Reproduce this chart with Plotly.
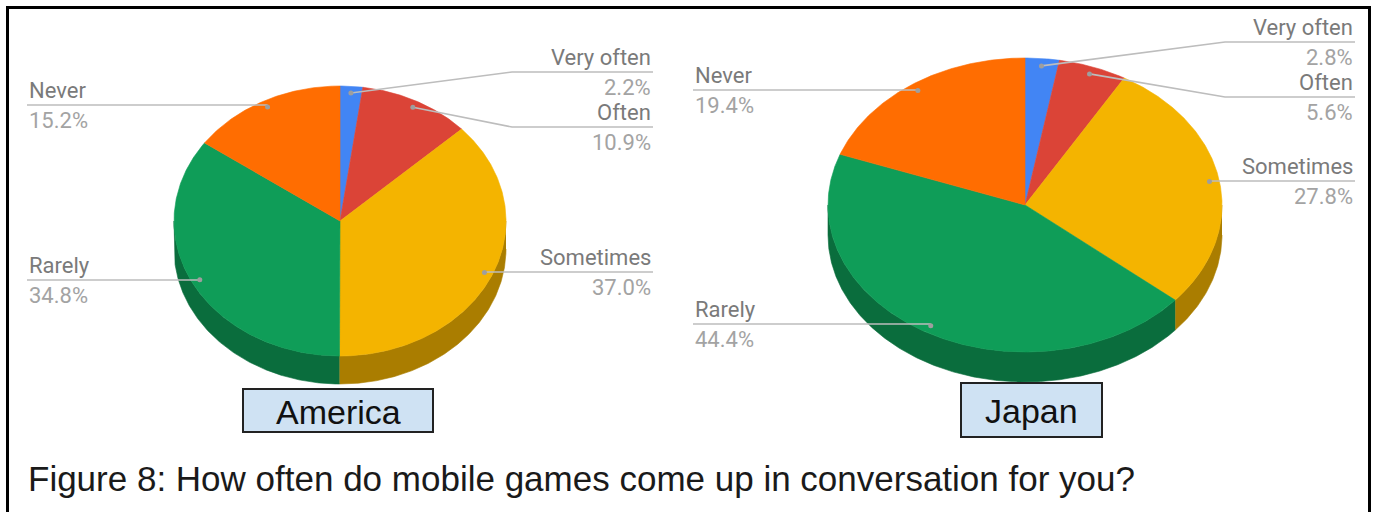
import numpy as np
import plotly.graph_objects as go

# Survey answers (percent of respondents)
categories = ["Very often", "Often", "Sometimes", "Rarely", "Never"]
america_pct = [2.2, 10.9, 37.0, 34.8, 15.2]
japan_pct = [2.8, 5.6, 27.8, 44.4, 19.4]
slice_colors = ["#4285F4", "#DB4437", "#F4B400", "#0F9D58", "#FF6D01"]
countries = ["America", "Japan"]
caption = "Figure 8: How often do mobile games come up in conversation for you?"

W, H = 1377, 512

# Pixel layout of each tilted pie and its labels
pie_layout = [
    dict(cx=340, cy=221, rx=166, ry=135, depth=28,
         left_x=27, right_x=653, elbow_x=512,
         line_y=[72, 127, 272, 280, 105],
         box=(243, 389, 433, 432)),
    dict(cx=1025, cy=205, rx=197, ry=147, depth=30,
         left_x=693, right_x=1355, elbow_x=1225,
         line_y=[42, 97, 181, 324, 90],
         box=(961, 383, 1102, 437)),
]
country_values = [america_pct, japan_pct]

LABEL_FONT = "Roboto"
NAME_COLOR = "#7a7a7a"
PCT_COLOR = "#a3a3a3"
LEADER_COLOR = "#bdbdbd"
DOT_FRAC = 0.95


def darken(hex_color, f=0.7):
    h = hex_color.lstrip("#")
    r, g, b = (int(h[i:i + 2], 16) for i in (0, 2, 4))
    return "#%02x%02x%02x" % (int(r * f), int(g * f), int(b * f))


def arc(cx, cy, rx, ry, a0, a1):
    n = max(int(abs(a1 - a0) * 2), 4)
    th = np.radians(np.linspace(a0, a1, n))
    return cx + rx * np.sin(th), cy - ry * np.cos(th)


fig = go.Figure()
annotations = []
shapes = []

for country, values, lay in zip(countries, country_values, pie_layout):
    cx, cy, rx, ry, d = lay["cx"], lay["cy"], lay["rx"], lay["ry"], lay["depth"]
    total = float(sum(values))
    bounds = np.concatenate([[0.0], np.cumsum(values)]) / total * 360.0

    # side wall: only the front half (90..270 deg) is visible
    for i, col in enumerate(slice_colors):
        a0, a1 = max(bounds[i], 90.0), min(bounds[i + 1], 270.0)
        if a1 <= a0:
            continue
        xs, ys = arc(cx, cy, rx, ry, a0, a1)
        px = np.concatenate([xs, xs[::-1]])
        py = np.concatenate([ys, ys[::-1] + d])
        side = darken(col)
        fig.add_trace(go.Scatter(x=px, y=py, mode="lines", fill="toself",
                                 fillcolor=side, line=dict(color=side, width=0.6),
                                 hoverinfo="skip", showlegend=False))

    # top faces
    for i, (cat, col) in enumerate(zip(categories, slice_colors)):
        xs, ys = arc(cx, cy, rx, ry, bounds[i], bounds[i + 1])
        px = np.concatenate([[cx], xs, [cx]])
        py = np.concatenate([[cy], ys, [cy]])
        fig.add_trace(go.Scatter(x=px, y=py, mode="lines", fill="toself",
                                 fillcolor=col, line=dict(color=col, width=0.6),
                                 name=cat, hoverinfo="name", showlegend=False))

    # leader lines, dots and labels
    for i, cat in enumerate(categories):
        mid = np.radians((bounds[i] + bounds[i + 1]) / 2)
        dx = cx + DOT_FRAC * rx * np.sin(mid)
        dy = cy - DOT_FRAC * ry * np.cos(mid)
        ly = lay["line_y"][i]
        left = dx < cx
        end_x = lay["left_x"] if left else lay["right_x"]
        if abs(dy - ly) < 4:
            lx, lyy = [dx, end_x], [ly, ly]
        else:
            lx, lyy = [dx, lay["elbow_x"], end_x], [dy, ly, ly]
        fig.add_trace(go.Scatter(x=lx, y=lyy, mode="lines",
                                 line=dict(color=LEADER_COLOR, width=1.6),
                                 hoverinfo="skip", showlegend=False))
        fig.add_trace(go.Scatter(x=[dx], y=[dy], mode="markers",
                                 marker=dict(size=5, color="#9e9e9e"),
                                 hoverinfo="skip", showlegend=False))
        anchor = "left" if left else "right"
        annotations.append(dict(x=end_x, y=ly - 15, text=cat, showarrow=False,
                                xanchor=anchor, yanchor="middle", xref="x", yref="y",
                                font=dict(family=LABEL_FONT, size=22, color=NAME_COLOR)))
        annotations.append(dict(x=end_x, y=ly + 15, text="%.1f%%" % values[i],
                                showarrow=False, xanchor=anchor, yanchor="middle",
                                xref="x", yref="y",
                                font=dict(family=LABEL_FONT, size=22, color=PCT_COLOR)))

    # country name box
    x0, y0, x1, y1 = lay["box"]
    shapes.append(dict(type="rect", xref="x", yref="y", x0=x0, y0=y0, x1=x1, y1=y1,
                       fillcolor="#cfe2f3", line=dict(color="#222222", width=2)))
    annotations.append(dict(x=(x0 + x1) / 2, y=(y0 + y1) / 2 + 1, text=country,
                            showarrow=False, xanchor="center", yanchor="middle",
                            xref="x", yref="y",
                            font=dict(family="Liberation Sans", size=34, color="#111111")))

# figure caption
annotations.append(dict(x=26, y=478, text=caption, showarrow=False,
                        xanchor="left", yanchor="middle", xref="x", yref="y",
                        font=dict(family="Liberation Sans", size=35, color="#1a1a1a")))

# outer frame
shapes.append(dict(type="rect", xref="x", yref="y", x0=7.5, y0=7.5, x1=1369.5, y1=530,
                   line=dict(color="#000000", width=3), fillcolor="rgba(0,0,0,0)"))

fig.update_layout(
    width=W, height=H,
    margin=dict(l=0, r=0, t=0, b=0),
    paper_bgcolor="white", plot_bgcolor="white",
    xaxis=dict(range=[0, W], visible=False, fixedrange=True),
    yaxis=dict(range=[H, 0], visible=False, fixedrange=True),
    annotations=annotations,
    shapes=shapes,
    showlegend=False,
)

fig.write_html("out.html")
